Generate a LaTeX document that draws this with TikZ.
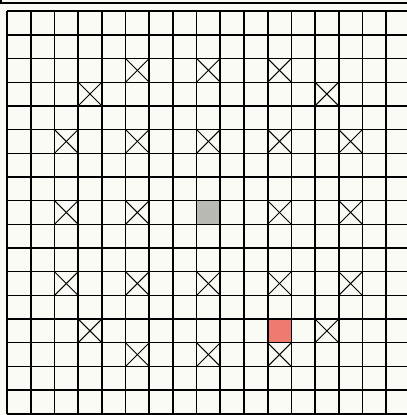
\documentclass[tikz,border=0pt]{standalone}
\usepackage{xcolor}
\definecolor{paper}{RGB}{251,251,246}
\definecolor{centregrey}{RGB}{186,186,180}
\definecolor{markred}{RGB}{238,122,112}
\begin{document}
\begin{tikzpicture}[x=.6cm,y=-.6cm,line width=1.2pt,
  cross/.style={line width=.7pt}]
\fill[paper] (-.3,-.47) rectangle (16.88,17.05);
\useasboundingbox (-.3,-.47) rectangle (16.88,17.05);
\fill[centregrey] (8,8) rectangle (9,9);
\fill[markred] (11,13) rectangle (12,14);
\draw[line width=1.4pt] (-.25,-.47)--(-.25,-.34)--(16.88,-.34);
\foreach \y in {0,...,17} \draw[line width=1pt] (0,\y)--(16.88,\y);
\foreach \x in {0,...,16} \draw (\x,0)--(\x,17);
\foreach \x/\y in {5/2,8/2,11/2,3/3,13/3,2/5,5/5,8/5,11/5,14/5,2/8,5/8,11/8,14/8,
  2/11,5/11,8/11,11/11,14/11,3/13,13/13,5/14,8/14,11/14}{
  \draw[cross] (\x,\y)--++(1,1);
  \draw[cross] (\x+1,\y)--++(-1,1);
}
\end{tikzpicture}
\end{document}
